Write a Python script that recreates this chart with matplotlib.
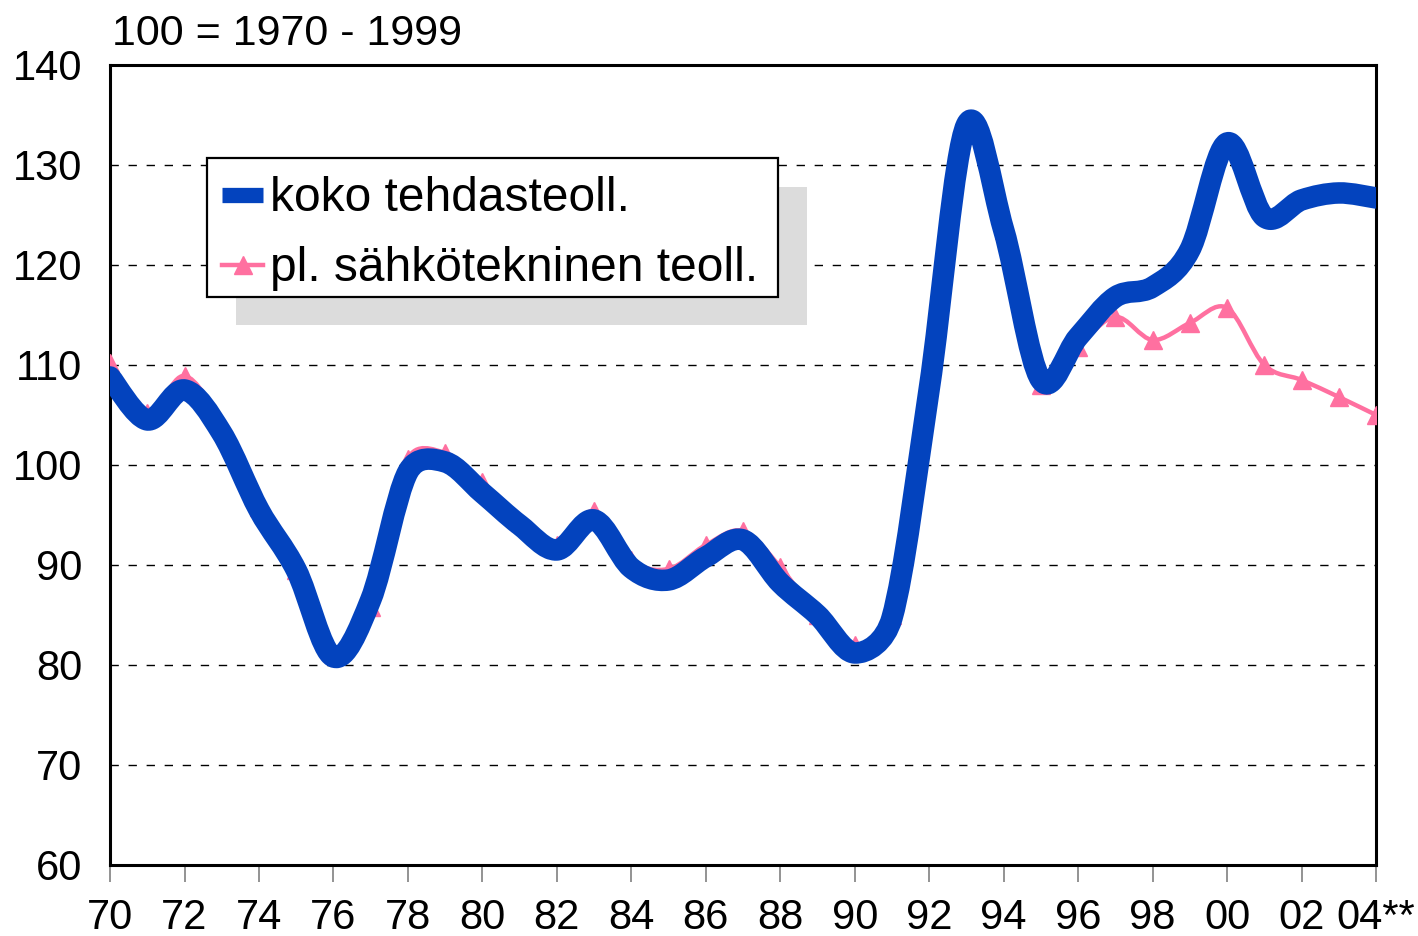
import numpy as np
import matplotlib
matplotlib.use("Agg")
import matplotlib.pyplot as plt
from matplotlib.path import Path
from matplotlib.patches import PathPatch, Rectangle
from matplotlib.lines import Line2D

plt.rcParams['font.family'] = ['Liberation Sans', 'DejaVu Sans']

years = np.arange(1970, 2005)
koko = [108.8, 104.5, 107.5, 103.2, 95.5, 89.5, 80.8, 86.5, 99.3, 100.3,
        97.2, 94.0, 91.5, 94.5, 89.7, 88.5, 90.8, 92.5, 88.2, 85.0,
        81.2, 84.7, 107.6, 134.0, 123.5, 108.5, 112.8, 116.8, 117.8, 121.5,
        132.2, 124.8, 126.5, 127.2, 126.7]
pl_sahko = [110.2, 105.2, 108.9, 104.0, 95.8, 89.5, 81.2, 85.8, 100.6, 101.2,
            98.3, 94.3, 92.0, 95.4, 90.5, 89.6, 92.0, 93.4, 89.8, 85.0,
            82.0, 85.0, 108.5, 134.6, 123.5, 108.0, 111.8, 114.8, 112.5, 114.2,
            115.7, 110.0, 108.5, 106.8, 105.0]
xticklabels = ['70', '72', '74', '76', '78', '80', '82', '84', '86', '88',
               '90', '92', '94', '96', '98', '00', '02', '04**']
legend_labels = ['koko tehdasteoll.', 'pl. sähkötekninen teoll.']

blue = '#0343BE'
pink = '#FF70A0'


def smooth_path(x, y, sx=37.24, sy=10.0):
    # spreadsheet-style smoothed line: Bezier segments, control arms 1/6 of the
    # neighbour chord, capped at half the segment length (screen units)
    x = np.asarray(x, float)
    y = np.asarray(y, float)
    n = len(x)

    def dist(i, j):
        return np.hypot((x[j] - x[i]) * sx, (y[j] - y[i]) * sy)

    verts = [(x[0], y[0])]
    codes = [Path.MOVETO]
    for i in range(n - 1):
        p0 = max(i - 1, 0)
        p3 = min(i + 2, n - 1)
        d12 = dist(i, i + 1)
        d02 = dist(p0, i + 1)
        d13 = dist(i, p3)
        f1 = 1 / 6 if d02 / 6 < d12 / 2 else d12 / (2 * d02)
        f2 = 1 / 6 if d13 / 6 < d12 / 2 else d12 / (2 * d13)
        c1 = (x[i] + (x[i + 1] - x[p0]) * f1, y[i] + (y[i + 1] - y[p0]) * f1)
        c2 = (x[i + 1] - (x[p3] - x[i]) * f2, y[i + 1] - (y[p3] - y[i]) * f2)
        verts += [c1, c2, (x[i + 1], y[i + 1])]
        codes += [Path.CURVE4] * 3
    return Path(verts, codes)


fig = plt.figure(figsize=(14.18, 9.36), dpi=100)
ax = fig.add_axes([0.0776, 0.0759, 0.8928, 0.8547])

ax.add_patch(PathPatch(smooth_path(years, pl_sahko), fill=False, edgecolor=pink,
                       lw=3.2, zorder=3))
ax.plot(years, pl_sahko, linestyle='none', marker='^', color=pink,
        markersize=12.5, zorder=3)
ax.add_patch(PathPatch(smooth_path(years, koko), fill=False, edgecolor=blue,
                       lw=15.5, capstyle='round', joinstyle='round', zorder=4))

ax.set_xlim(1970, 2004)
ax.set_ylim(60, 140)
ax.set_xticks(np.arange(1970, 2005, 2))
ax.set_xticklabels(xticklabels)
ax.set_yticks(np.arange(60, 141, 10))
ax.tick_params(axis='x', length=12, width=1.2, color='#808080', direction='out',
               labelsize=30, pad=12)
ax.tick_params(axis='y', length=0, labelsize=30, pad=20)
for sp in ax.spines.values():
    sp.set_linewidth(2.2)
for v in range(70, 140, 10):
    ax.axhline(v, color='black', lw=1, linestyle=(0, (6, 7)), zorder=1)

fig.text(0.079, 0.964, '100 = 1970 - 1999', fontsize=31, va='center', ha='left')

# legend drawn by hand: gray shadow, white framed box, handles and labels
ax.add_patch(Rectangle((0.0995, 0.675), 0.451, 0.1725, transform=ax.transAxes,
                       facecolor='#DCDCDC', edgecolor='none', zorder=5))
ax.add_patch(Rectangle((0.0766, 0.71), 0.451, 0.17375, transform=ax.transAxes,
                       facecolor='white', edgecolor='black', lw=1.6, zorder=6))
ax.add_line(Line2D([0.0885, 0.1209], [0.8375, 0.8375], transform=ax.transAxes,
                   color=blue, lw=11, solid_capstyle='butt', zorder=7))
ax.add_line(Line2D([0.0885, 0.1209], [0.75, 0.75], transform=ax.transAxes,
                   color=pink, lw=3.2, zorder=7))
ax.add_line(Line2D([0.1047], [0.75], transform=ax.transAxes, color=pink,
                   marker='^', markersize=12.5, linestyle='none', zorder=7))
ax.text(0.1264, 0.8175, legend_labels[0], transform=ax.transAxes, fontsize=34.5,
        va='baseline', ha='left', zorder=8)
ax.text(0.1264, 0.73, legend_labels[1], transform=ax.transAxes, fontsize=34.5,
        va='baseline', ha='left', zorder=8)

fig.savefig('out.png', dpi=100)
